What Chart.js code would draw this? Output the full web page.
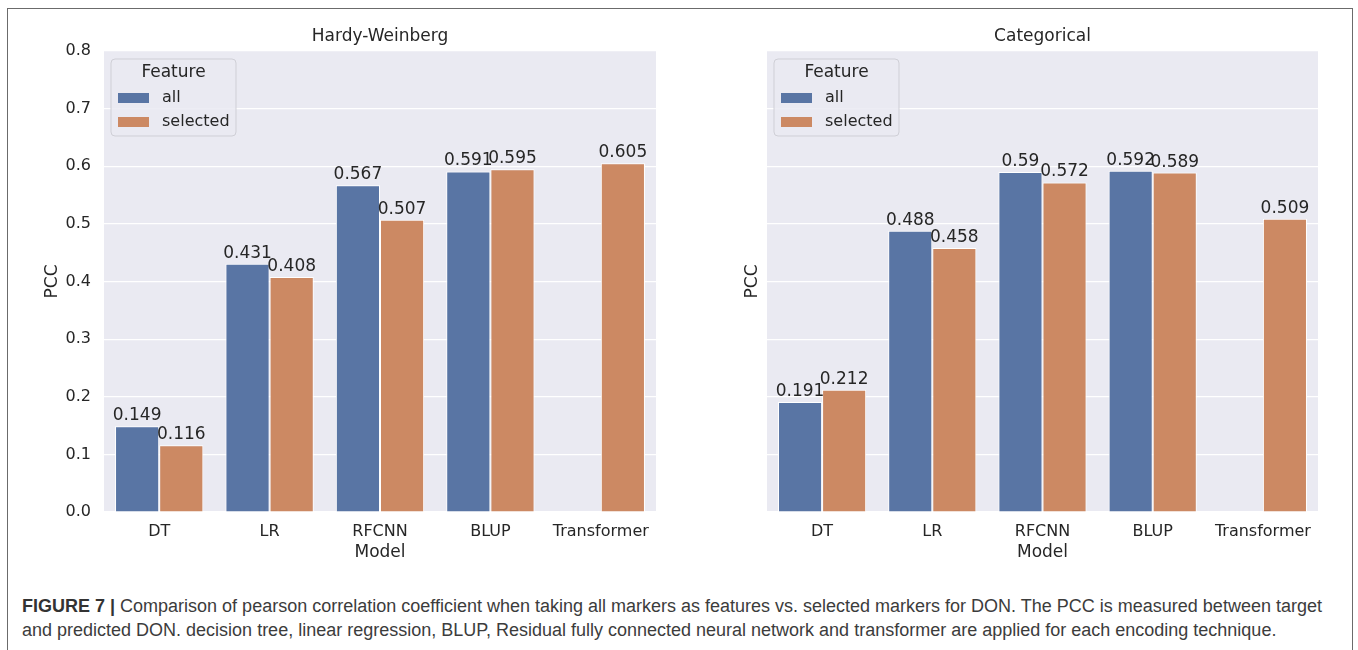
<!DOCTYPE html>
<html>
<head>
<meta charset="utf-8">
<script src="https://cdn.jsdelivr.net/npm/chart.js@4.4.0/dist/chart.umd.min.js"></script>
<style>
  html, body { margin: 0; padding: 0; background: #fff; }
  body { width: 1358px; height: 650px; position: relative; overflow: hidden; }
  #frame {
    position: absolute; left: 7px; top: 8px; width: 1346px; height: 660px;
    border: 1.5px solid #6b6b6b; box-sizing: border-box;
  }
  .panel { position: absolute; top: 1px; height: 570px; }
  #panel-hw { left: 0; width: 680px; }
  #panel-cat { left: 680px; width: 678px; }
  #caption {
    position: absolute; left: 22px; top: 594px; width: 1325px;
    font-family: "Liberation Sans", Arial, sans-serif; font-size: 18px;
    line-height: 24px; color: #3c3c3c; white-space: nowrap;
  }
  #caption b { color: #333; }
</style>
</head>
<body>
<div id="frame"></div>
<div class="panel" id="panel-hw"><canvas id="chart-hw"></canvas></div>
<div class="panel" id="panel-cat"><canvas id="chart-cat"></canvas></div>
<div id="caption">
  <b>FIGURE 7 |</b> Comparison of pearson correlation coefficient when taking all markers as features vs. selected markers for DON. The PCC is measured between target<br>
  and predicted DON. decision tree, linear regression, BLUP, Residual fully connected neural network and transformer are applied for each encoding technique.
</div>

<script>
// --- Data ---
const models = ['DT', 'LR', 'RFCNN', 'BLUP', 'Transformer'];
const featureLabels = ['all', 'selected'];

const hardyAll = [0.149, 0.431, 0.567, 0.591, null];
const hardySelected = [0.116, 0.408, 0.507, 0.595, 0.605];

const categoricalAll = [0.191, 0.488, 0.59, 0.592, null];
const categoricalSelected = [0.212, 0.458, 0.572, 0.589, 0.509];

const yTicks = [0.0, 0.1, 0.2, 0.3, 0.4, 0.5, 0.6, 0.7, 0.8];

// --- Style ---
const BLUE = '#5975a4';
const ORANGE = '#cc8963';
const PLOT_BG = '#eaeaf2';
const INK = '#262626';
const FONT = '"DejaVu Sans", sans-serif';

// grey plot background behind the bars, plus the panel title centred on it
const plotBackground = {
    id: 'plotBackground',
    beforeDraw(chart) {
        const { ctx, chartArea: a } = chart;
        ctx.save();
        ctx.fillStyle = PLOT_BG;
        ctx.fillRect(a.left, a.top, a.right - a.left, a.bottom - a.top);
        ctx.fillStyle = INK;
        ctx.font = `17px ${FONT}`;
        ctx.textAlign = 'center';
        ctx.textBaseline = 'middle';
        ctx.fillText(chart.options.panelTitle, (a.left + a.right) / 2, a.top - 14);
        ctx.restore();
    }
};

// value printed on top of each bar
const barValues = {
    id: 'barValues',
    afterDatasetsDraw(chart) {
        const { ctx } = chart;
        ctx.save();
        ctx.font = `17px ${FONT}`;
        ctx.fillStyle = INK;
        ctx.textAlign = 'center';
        ctx.textBaseline = 'bottom';
        chart.data.datasets.forEach((ds, i) => {
            const meta = chart.getDatasetMeta(i);
            meta.data.forEach((bar, j) => {
                const v = ds.data[j];
                if (v === null || v === undefined) return;
                ctx.fillText(String(v), bar.x, bar.y - 2);
            });
        });
        ctx.restore();
    }
};

// seaborn-like legend box in the upper left corner of the plot
const featureLegend = {
    id: 'featureLegend',
    afterDraw(chart) {
        const { ctx, chartArea: a } = chart;
        const x = a.left + 7, y = a.top + 8, w = 125, h = 77, r = 4;
        ctx.save();
        ctx.beginPath();
        ctx.roundRect(x, y, w, h, r);
        ctx.fillStyle = 'rgba(234,234,242,0.85)';
        ctx.fill();
        ctx.strokeStyle = '#cfcfd6';
        ctx.lineWidth = 1;
        ctx.stroke();

        ctx.fillStyle = INK;
        ctx.textBaseline = 'middle';
        ctx.textAlign = 'center';
        ctx.font = `17px ${FONT}`;
        ctx.fillText('Feature', x + w / 2, y + 14);

        ctx.textAlign = 'left';
        ctx.font = `16px ${FONT}`;
        chart.data.datasets.forEach((ds, i) => {
            const cy = y + 39 + i * 24;
            ctx.fillStyle = ds.backgroundColor;
            ctx.fillRect(x + 7, cy - 5, 31, 10);
            ctx.fillStyle = INK;
            ctx.fillText(ds.label, x + 51, cy);
        });
        ctx.restore();
    }
};

function buildChart(canvasId, title, allValues, selectedValues, opts) {
    return new Chart(document.getElementById(canvasId), {
        type: 'bar',
        data: {
            labels: models,
            datasets: [
                { label: featureLabels[0], data: allValues, backgroundColor: BLUE },
                { label: featureLabels[1], data: selectedValues, backgroundColor: ORANGE }
            ]
        },
        options: {
            responsive: true,
            maintainAspectRatio: false,
            animation: false,
            panelTitle: title,
            layout: { padding: { left: 0, right: opts.padRight, top: 50, bottom: 0 } },
            datasets: {
                bar: {
                    categoryPercentage: 0.8,
                    barPercentage: 1.0,
                    borderColor: '#ffffff',
                    borderWidth: 1,
                    borderSkipped: 'bottom'
                }
            },
            plugins: {
                legend: { display: false },
                tooltip: { enabled: false },
                title: { display: false }
            },
            scales: {
                x: {
                    grid: { display: false, drawTicks: false },
                    border: { display: false },
                    ticks: { color: INK, font: { family: FONT, size: 16 }, padding: 10 },
                    title: {
                        display: true, text: 'Model', color: INK,
                        font: { family: FONT, size: 17 },
                        padding: { top: 0, bottom: 8 }
                    },
                    afterFit: scale => { scale.height = 59; }
                },
                y: {
                    min: 0,
                    max: 0.8,
                    afterBuildTicks: scale => {
                        scale.ticks = yTicks.map(v => ({ value: v }));
                    },
                    grid: { color: '#ffffff', lineWidth: 1.2, drawTicks: false },
                    border: { display: false },
                    ticks: {
                        display: opts.showTicks,
                        color: INK,
                        font: { family: FONT, size: 16 },
                        padding: 13,
                        callback: v => Number(v).toFixed(1)
                    },
                    title: {
                        display: true, text: 'PCC', color: INK,
                        font: { family: FONT, size: 17 },
                        padding: { top: opts.titleGap, bottom: 0 }
                    },
                    afterFit: scale => { scale.width = opts.axisWidth; }
                }
            }
        },
        plugins: [plotBackground, barValues, featureLegend]
    });
}

buildChart('chart-hw', 'Hardy-Weinberg', hardyAll, hardySelected,
    { padRight: 24, axisWidth: 104, titleGap: 42, showTicks: true });
buildChart('chart-cat', 'Categorical', categoricalAll, categoricalSelected,
    { padRight: 40, axisWidth: 87, titleGap: 62, showTicks: false });
</script>
</body>
</html>
